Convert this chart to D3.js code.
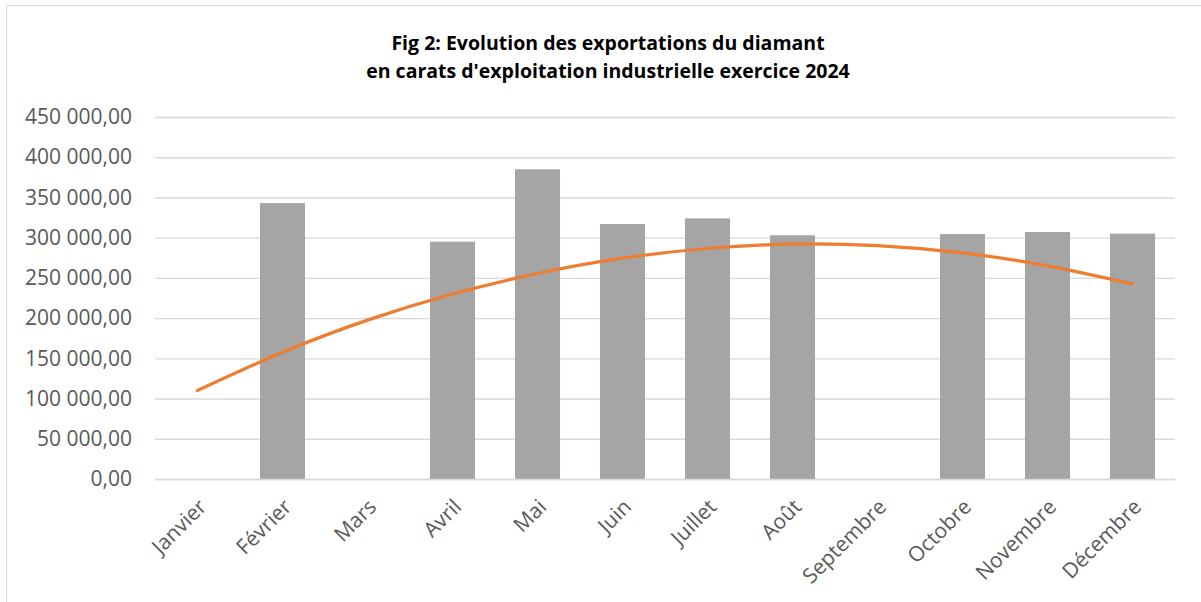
<!DOCTYPE html>
<html>
<head>
<meta charset="utf-8">
<script src="https://cdn.jsdelivr.net/npm/d3@7"></script>
<style>
  body { margin: 0; background: #fff; }
  svg { display: block; font-family: "Open Sans", sans-serif; }
</style>
</head>
<body>
<div id="chart"></div>
<script>
// donnees
var mois = ["Janvier", "Février", "Mars", "Avril", "Mai", "Juin", "Juillet",
            "Août", "Septembre", "Octobre", "Novembre", "Décembre"];
var exportations = [null, 343000, null, 295000, 385000, 317000, 324000,
                    303000, null, 304500, 307000, 305000];
var tendance = [110000, 157500, 197500, 230000, 255500, 274500, 286500,
                292000, 290000, 281000, 265000, 242500];
var yTicks = [0, 50000, 100000, 150000, 200000, 250000, 300000, 350000, 400000, 450000];
var titre = ["Fig 2: Evolution des exportations du diamant",
             "en carats d'exploitation industrielle exercice 2024"];

var width = 1201, height = 602;
var margin = {left: 155, right: 26, top: 117, bottom: 123};

var svg = d3.select("#chart").append("svg")
            .attr("width", width)
            .attr("height", height);

svg.append("rect")
   .attr("x", 6.5).attr("y", 5.5)
   .attr("width", 1200).attr("height", 600)
   .style("fill", "#fff")
   .style("stroke", "#d9d9d9");

var x = d3.scaleBand()
          .domain(mois)
          .range([margin.left, width - margin.right])
          .paddingInner(0.47)
          .paddingOuter(0.235);

var y = d3.scaleLinear()
          .domain([0, 450000])
          .range([height - margin.bottom, margin.top]);

var fmt = function (d) {
  return d3.format(",.2f")(d).replace(/,/g, " ").replace(".", ",");
};

// quadrillage
var yAxis = d3.axisLeft(y)
              .tickValues(yTicks)
              .tickSize(-(width - margin.left - margin.right))
              .tickPadding(23)
              .tickFormat(fmt);

var gy = svg.append("g")
            .attr("transform", "translate(" + margin.left + ",0)")
            .call(yAxis);
gy.select(".domain").remove();
gy.selectAll(".tick line")
  .style("stroke", "#d9d9d9")
  .style("stroke-width", 1.4);
gy.selectAll(".tick text")
  .style("fill", "#595959")
  .style("font-family", "'Open Sans', sans-serif")
  .style("font-size", "21px");

// barres
svg.selectAll("rect.barre")
   .data(mois.map(function (m, i) { return {mois: m, v: exportations[i]}; })
             .filter(function (d) { return d.v !== null; }))
   .enter()
   .append("rect")
   .attr("class", "barre")
   .attr("x", function (d) { return x(d.mois); })
   .attr("width", x.bandwidth())
   .attr("y", function (d) { return y(d.v); })
   .attr("height", function (d) { return y(0) - y(d.v); })
   .style("fill", "#a5a5a5");

// axe des categories
var xAxis = d3.axisBottom(x).tickSize(0).tickPadding(0);
var gx = svg.append("g")
            .attr("transform", "translate(0," + y(0) + ")")
            .call(xAxis);
gx.select(".domain")
  .style("stroke", "#d9d9d9")
  .style("stroke-width", 1.4);
gx.selectAll(".tick text")
  .attr("text-anchor", "end")
  .attr("transform", "translate(5,24) rotate(-45)")
  .attr("dy", "0.35em")
  .style("fill", "#595959")
  .style("font-family", "'Open Sans', sans-serif")
  .style("font-size", "21px");

// courbe de tendance
var ligne = d3.line()
              .x(function (d, i) { return x(mois[i]) + x.bandwidth() / 2; })
              .y(function (d) { return y(d); })
              .curve(d3.curveNatural);

svg.append("path")
   .datum(tendance)
   .attr("d", ligne)
   .style("fill", "none")
   .style("stroke", "#ed7d31")
   .style("stroke-width", 3.2)
   .style("stroke-linecap", "round");

// titre
svg.selectAll("text.titre")
   .data(titre)
   .enter()
   .append("text")
   .attr("class", "titre")
   .attr("x", 608)
   .attr("y", function (d, i) { return 50 + i * 28; })
   .attr("text-anchor", "middle")
   .style("font-size", "19.5px")
   .style("font-weight", "bold")
   .style("fill", "#000")
   .text(function (d) { return d; });
</script>
</body>
</html>
